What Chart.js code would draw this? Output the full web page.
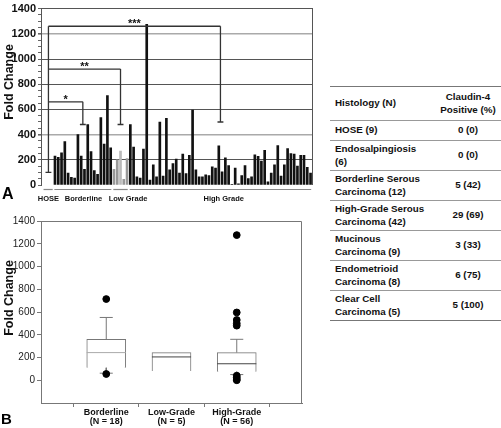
<!DOCTYPE html>
<html>
<head>
<meta charset="utf-8">
<script src="https://cdn.jsdelivr.net/npm/chart.js@4.4.0/dist/chart.umd.min.js"></script>
<style>
  body { margin: 0; background: #fff; font-family: Arial, "Liberation Sans", sans-serif; }
  #wrap { position: relative; width: 501px; height: 428px; overflow: hidden; }
  #chartA { position: absolute; left: 0; top: 0; }
  #chartB { position: absolute; left: 0; top: 210px; }
  .panel { position: absolute; font-weight: bold; color: #000; line-height: normal; }
  #tbl { position: absolute; left: 330px; top: 86px; width: 171px; border-collapse: collapse;
         font-size: 9.8px; font-weight: bold; color: #111; }
  #tbl td { border-top: 1.4px solid #999; padding: 0 0 0 5px; white-space: pre-line; line-height: 12.5px; vertical-align: middle; }
  #tbl td.v { text-align: center; padding: 0; width: 66px; }
  #tbl tr:first-child td { border-top: 1.5px solid #777; }
  #tbl tr:last-child td { border-bottom: 1.5px solid #777; }
</style>
</head>
<body>
<div id="wrap">
  <canvas id="chartA" width="320" height="210"></canvas>
  <canvas id="chartB" width="320" height="218"></canvas>
  <div class="panel" style="left:2px; top:185px; font-size:16px;">A</div>
  <div class="panel" style="left:1px; top:410px; font-size:15px;">B</div>
  <table id="tbl"></table>
</div>
<script>
// ---- panel A: fold change per sample
const hoseValue = 100;
const borderline = [230, 220, 255, 345, 95, 60, 55, 400, 230, 125, 480, 265, 115, 85, 535, 325, 710, 295];
const lowGrade = [125, 200, 270, 45, 210];
const highGrade = [480, 300, 65, 55, 285, 1275, 40, 160, 65, 500, 70, 530, 120, 170, 205, 95, 245, 90, 235, 595,
                   120, 65, 65, 80, 75, 145, 135, 310, 105, 215, 155, 5, 135, 10, 75, 155, 50, 65,
                   240, 227, 190, 275, 25, 95, 160, 313, 70, 160, 290, 250, 245, 150, 235, 235, 140, 95];
const groupNames = ["HOSE", "Borderline", "Low Grade", "High Grade"];
const sigMarks = ["*", "**", "***"];
const sigHeights = [660, 920, 1260];
const sigEnds = [480, 480, 500];
const foldTicks = [0, 200, 400, 600, 800, 1000, 1200, 1400];

// ---- panel B: box plot summary
const boxGroups = ["Borderline", "Low-Grade", "High-Grade"];
const boxN = [18, 5, 56];
const boxQ1 = [110, 82, 75];
const boxMedian = [243, 205, 145];
const boxQ3 = [359, 243, 243];
const whiskerLow = [62, null, 50];
const whiskerHigh = [552, null, 360];
const outliers = [[714, 55], [], [1276, 596, 530, 500, 480, 40, 25, 10, 0]];

// ---- table
const histology = ["HOSE (9)", "Endosalpingiosis\n(6)", "Borderline Serous\nCarcinoma (12)", "High-Grade Serous\nCarcinoma (42)",
                   "Mucinous\nCarcinoma (9)", "Endometrioid\nCarcinoma (8)", "Clear Cell\nCarcinoma (5)"];
const claudinPositive = ["0 (0)", "0 (0)", "5 (42)", "29 (69)", "3 (33)", "6 (75)", "5 (100)"];

// build table
const tbl = document.getElementById("tbl");
let html = '<tr style="height:34px"><td>Histology (N)</td><td class="v">Claudin-4\nPositive (%)</td></tr>';
histology.forEach((h, i) => {
  html += `<tr style="height:${i === 0 ? 20 : 30}px"><td>${h}</td><td class="v">${claudinPositive[i]}</td></tr>`;
});
tbl.innerHTML = html;

// positions along x for panel A (one unit per sample)
const hoseX = -2;
const groups = [
  { start: 0, vals: borderline, color: "#111" },
  { start: borderline.length, vals: lowGrade, color: "#999" },
  { start: borderline.length + lowGrade.length, vals: highGrade, color: "#111" }
];
const bars = [], barColors = [];
groups.forEach(g => g.vals.forEach((v, i) => {
  bars.push({ x: g.start + i, y: v });
  barColors.push(g.color);
}));
barColors[borderline.length + 2] = "#bbb";
const groupCenter = g => g.start + (g.vals.length - 1) / 2;

// bracket segments
const segs = [];
const seg = (x1, y1, x2, y2) => segs.push([{ x: x1, y: y1 }, { x: x2, y: y2 }]);
seg(hoseX, hoseValue, hoseX, sigHeights[2]);
seg(hoseX - 0.9, hoseValue, hoseX + 0.9, hoseValue);
sigHeights.forEach((h, i) => {
  const cx = groupCenter(groups[i]);
  seg(hoseX, h, cx, h);
  seg(cx, h, cx, sigEnds[i]);
  seg(cx - 0.9, sigEnds[i], cx + 0.9, sigEnds[i]);
});

const yTitle = {
  id: "yTitle",
  afterDraw(chart, args, opts) {
    const ctx = chart.ctx;
    ctx.save();
    ctx.translate(opts.x, opts.y);
    ctx.rotate(-Math.PI / 2);
    ctx.font = "bold 12.5px Arial, 'Liberation Sans'";
    ctx.fillStyle = "#111";
    ctx.textAlign = "center";
    ctx.textBaseline = "middle";
    ctx.fillText("Fold Change", 0, 0);
    ctx.restore();
  }
};

const decorA = {
  id: "decorA",
  afterDraw(chart) {
    const { ctx, chartArea: a, scales: { x, y } } = chart;
    ctx.save();
    ctx.strokeStyle = "#555";
    ctx.lineWidth = 1;
    ctx.beginPath();
    ctx.moveTo(a.right - 0.5, a.top);
    ctx.lineTo(a.right - 0.5, a.bottom);
    ctx.stroke();
    // group underlines
    const spans = [[hoseX - 1.5, hoseX + 1.3]].concat(groups.map(g => [g.start - 0.2, g.start + g.vals.length - 0.8]));
    ctx.strokeStyle = "#888";
    ctx.lineWidth = 1.2;
    spans.forEach(s => {
      ctx.beginPath();
      ctx.moveTo(x.getPixelForValue(s[0]), a.bottom + 4.5);
      ctx.lineTo(Math.min(a.right, x.getPixelForValue(s[1])), a.bottom + 4.5);
      ctx.stroke();
    });
    // group labels
    const labelAt = [hoseX, groupCenter(groups[0]) + 0.2, groupCenter(groups[1]) + 2.3, groupCenter(groups[2]) + 1];
    ctx.fillStyle = "#111";
    ctx.font = "bold 7.5px Arial, 'Liberation Sans'";
    ctx.textAlign = "center";
    ctx.textBaseline = "middle";
    groupNames.forEach((n, i) => ctx.fillText(n, x.getPixelForValue(labelAt[i]), a.bottom + 14));
    // significance stars
    ctx.font = "bold 11px Arial, 'Liberation Sans'";
    ctx.textBaseline = "alphabetic";
    sigMarks.forEach((m, i) => {
      const cx = (hoseX + groupCenter(groups[i])) / 2;
      ctx.fillText(m, x.getPixelForValue(cx), y.getPixelForValue(sigHeights[i]) + 1);
    });
    ctx.restore();
  }
};

new Chart(document.getElementById("chartA"), {
  type: "bar",
  data: {
    datasets: [
      { type: "bar", data: bars, backgroundColor: barColors, barThickness: 2, order: 2 }
    ].concat(segs.map(s => ({
      type: "line", data: s, borderColor: "#333", borderWidth: 1.3, pointRadius: 0, tension: 0, order: 1
    })))
  },
  options: {
    responsive: false,
    animation: false,
    layout: { padding: { top: 5, right: 7, left: 0, bottom: 25 } },
    plugins: { legend: { display: false }, tooltip: { enabled: false }, yTitle: { x: 10, y: 82 } },
    scales: {
      x: { type: "linear", min: -4.27, max: 78.75, offset: false, display: false },
      y: {
        min: 0, max: 1400,
        ticks: {
          stepSize: 50, autoSkip: false, padding: 2, color: "#111",
          font: { size: 11, weight: "bold", family: "Arial, 'Liberation Sans'" },
          callback: v => foldTicks.includes(v) ? String(v) : ""
        },
        grid: {
          color: c => {
            const v = c.tick.value;
            if (!foldTicks.includes(v) || v === 0) return "rgba(0,0,0,0)";
            return (v === 400 || v === 1200) ? "#aaa" : "#555";
          },
          lineWidth: c => (c.tick.value === 400 || c.tick.value === 1200) ? 1.6 : 1,
          tickColor: "#666", tickLength: 3
        },
        border: { color: "#555" },
        afterFit: s => { s.width = 41; }
      }
    }
  },
  plugins: [decorA, yTitle]
});

// ---- panel B
const boxSegs = [];
boxGroups.forEach((g, i) => {
  const cx = i + 1;
  boxSegs.push({ d: [{ x: cx - 0.3, y: boxMedian[i] }, { x: cx + 0.3, y: boxMedian[i] }], c: i === 0 ? "#aaa" : "#444" });
  if (whiskerHigh[i] !== null) {
    boxSegs.push({ d: [{ x: cx, y: boxQ3[i] }, { x: cx, y: whiskerHigh[i] }], c: "#777" });
    boxSegs.push({ d: [{ x: cx - 0.1, y: whiskerHigh[i] }, { x: cx + 0.1, y: whiskerHigh[i] }], c: "#777" });
  }
  if (whiskerLow[i] !== null) {
    boxSegs.push({ d: [{ x: cx, y: boxQ1[i] }, { x: cx, y: whiskerLow[i] }], c: "#777" });
    boxSegs.push({ d: [{ x: cx - 0.1, y: whiskerLow[i] }, { x: cx + 0.1, y: whiskerLow[i] }], c: "#777" });
  }
});
const outlierPts = [];
outliers.forEach((o, i) => o.forEach(v => outlierPts.push({ x: i + 1, y: v })));

const frameB = {
  id: "frameB",
  afterDraw(chart) {
    const { ctx, chartArea: a } = chart;
    ctx.save();
    ctx.strokeStyle = "#777";
    ctx.lineWidth = 1;
    ctx.beginPath();
    ctx.moveTo(a.left, a.top + 0.5);
    ctx.lineTo(a.right - 0.5, a.top + 0.5);
    ctx.lineTo(a.right - 0.5, a.bottom);
    ctx.stroke();
    ctx.restore();
  }
};

new Chart(document.getElementById("chartB"), {
  type: "bar",
  data: {
    datasets: [
      {
        type: "bar", order: 3,
        data: boxGroups.map((g, i) => ({ x: i + 1, y: [boxQ1[i], boxQ3[i]] })),
        backgroundColor: "#fff", borderColor: "#777", borderWidth: 1, barThickness: 39
      }
    ].concat(boxSegs.map(s => ({
      type: "line", data: s.d, borderColor: s.c, borderWidth: 1, pointRadius: 0, order: 2
    }))).concat([{
      type: "scatter", data: outlierPts, pointRadius: 3.4, backgroundColor: "#000", borderColor: "#000", order: 1
    }])
  },
  options: {
    responsive: false,
    animation: false,
    layout: { padding: { top: 11, right: 18, left: 0, bottom: 0 } },
    plugins: { legend: { display: false }, tooltip: { enabled: false }, yTitle: { x: 10, y: 88 } },
    scales: {
      x: {
        type: "linear", min: 0, max: 4, offset: false,
        afterBuildTicks: s => { s.ticks = boxGroups.map((g, i) => ({ value: i + 1 })); },
        ticks: {
          autoSkip: false, maxRotation: 0, padding: 1, color: "#111",
          font: { size: 9, weight: "bold", lineHeight: 1.0, family: "Arial, 'Liberation Sans'" },
          callback: v => [boxGroups[v - 1], `(N = ${boxN[v - 1]})`]
        },
        grid: { drawOnChartArea: false, tickLength: 4, tickColor: "#777" },
        border: { color: "#777" },
        afterFit: s => { s.height = 25; }
      },
      y: {
        min: -200, max: 1400,
        afterBuildTicks: s => { s.ticks = foldTicks.map(v => ({ value: v })); },
        ticks: { color: "#222", padding: 2, font: { size: 10, family: "Arial, 'Liberation Sans'" }, callback: v => String(v) },
        grid: { drawOnChartArea: false, tickLength: 4, tickColor: "#777" },
        border: { color: "#777" },
        afterFit: s => { s.width = 41; }
      }
    }
  },
  plugins: [frameB, yTitle]
});
</script>
</body>
</html>
